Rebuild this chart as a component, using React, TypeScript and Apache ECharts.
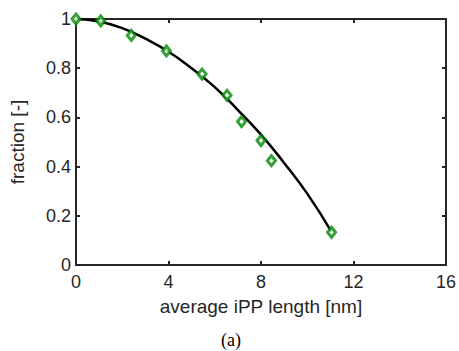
import React, { useEffect, useRef } from "react";
import * as echarts from "echarts";

const markerX = [0, 1.07, 2.39, 3.91, 5.45, 6.53, 7.16, 8.0, 8.45, 11.05];
const markerY = [1.0, 0.992, 0.933, 0.87, 0.776, 0.69, 0.583, 0.506, 0.424, 0.133];

const curveX = [0, 1, 2, 3, 4, 5, 6, 7, 8, 9, 10, 11.05];
const curveY = [1.0, 0.99, 0.963, 0.92, 0.867, 0.8, 0.723, 0.63, 0.53, 0.415, 0.29, 0.135];

const xTicks = { min: 0, max: 16, interval: 4 };
const yTicks = { min: 0, max: 1, interval: 0.2 };

const AXIS_COLOR = "#262626";
const FONT = "Liberation Sans, Arial, sans-serif";

export default function App() {
  const ref = useRef<HTMLDivElement>(null);
  useEffect(() => {
    if (!ref.current) return;
    const chart = echarts.init(ref.current, undefined, { renderer: "svg" });
    const axisLine = { show: true, onZero: false, lineStyle: { color: AXIS_COLOR, width: 2 } };
    const axisTick = { show: true, inside: true, length: 4, lineStyle: { color: AXIS_COLOR, width: 2 } };
    chart.setOption({
      animation: false,
      backgroundColor: "#fff",
      grid: { left: 73, top: 19, right: 10, bottom: 86, containLabel: false },
      xAxis: [
        {
          type: "value",
          ...xTicks,
          position: "bottom",
          axisLine,
          axisTick,
          splitLine: { show: false },
          axisLabel: { color: AXIS_COLOR, fontSize: 18, fontFamily: FONT, margin: 8 },
          name: "average iPP length [nm]",
          nameLocation: "middle",
          nameGap: 32,
          nameTextStyle: { color: AXIS_COLOR, fontSize: 19, fontFamily: FONT },
        },
        {
          type: "value",
          ...xTicks,
          position: "top",
          axisLine,
          axisTick,
          splitLine: { show: false },
          axisLabel: { show: false },
        },
      ],
      yAxis: [
        {
          type: "value",
          ...yTicks,
          position: "left",
          axisLine,
          axisTick,
          splitLine: { show: false },
          axisLabel: { color: AXIS_COLOR, fontSize: 18, fontFamily: FONT, margin: 5 },
          name: "fraction [-]",
          nameLocation: "middle",
          nameGap: 49,
          nameTextStyle: { color: AXIS_COLOR, fontSize: 19, fontFamily: FONT },
        },
        {
          type: "value",
          ...yTicks,
          position: "right",
          axisLine,
          axisTick,
          splitLine: { show: false },
          axisLabel: { show: false },
        },
      ],
      graphic: [
        {
          type: "text",
          left: 221,
          top: 331,
          style: { text: "(a)", font: "18px 'Liberation Serif', serif", fill: "#000" },
        },
      ],
      series: [
        {
          type: "line",
          data: curveX.map((x, i) => [x, curveY[i]]),
          smooth: true,
          showSymbol: false,
          lineStyle: { color: "#000", width: 2.5 },
          z: 2,
        },
        {
          type: "scatter",
          data: markerX.map((x, i) => [x, markerY[i]]),
          symbol: "diamond",
          symbolSize: [8, 10],
          itemStyle: { color: "#fff", borderColor: "#008a00", borderWidth: 3 },
          z: 3,
        },
      ],
    });
    return () => chart.dispose();
  }, []);
  return (
    <div
      ref={ref}
      style={{ position: "absolute", left: 0, top: 0, width: 459, height: 351 }}
    />
  );
}
